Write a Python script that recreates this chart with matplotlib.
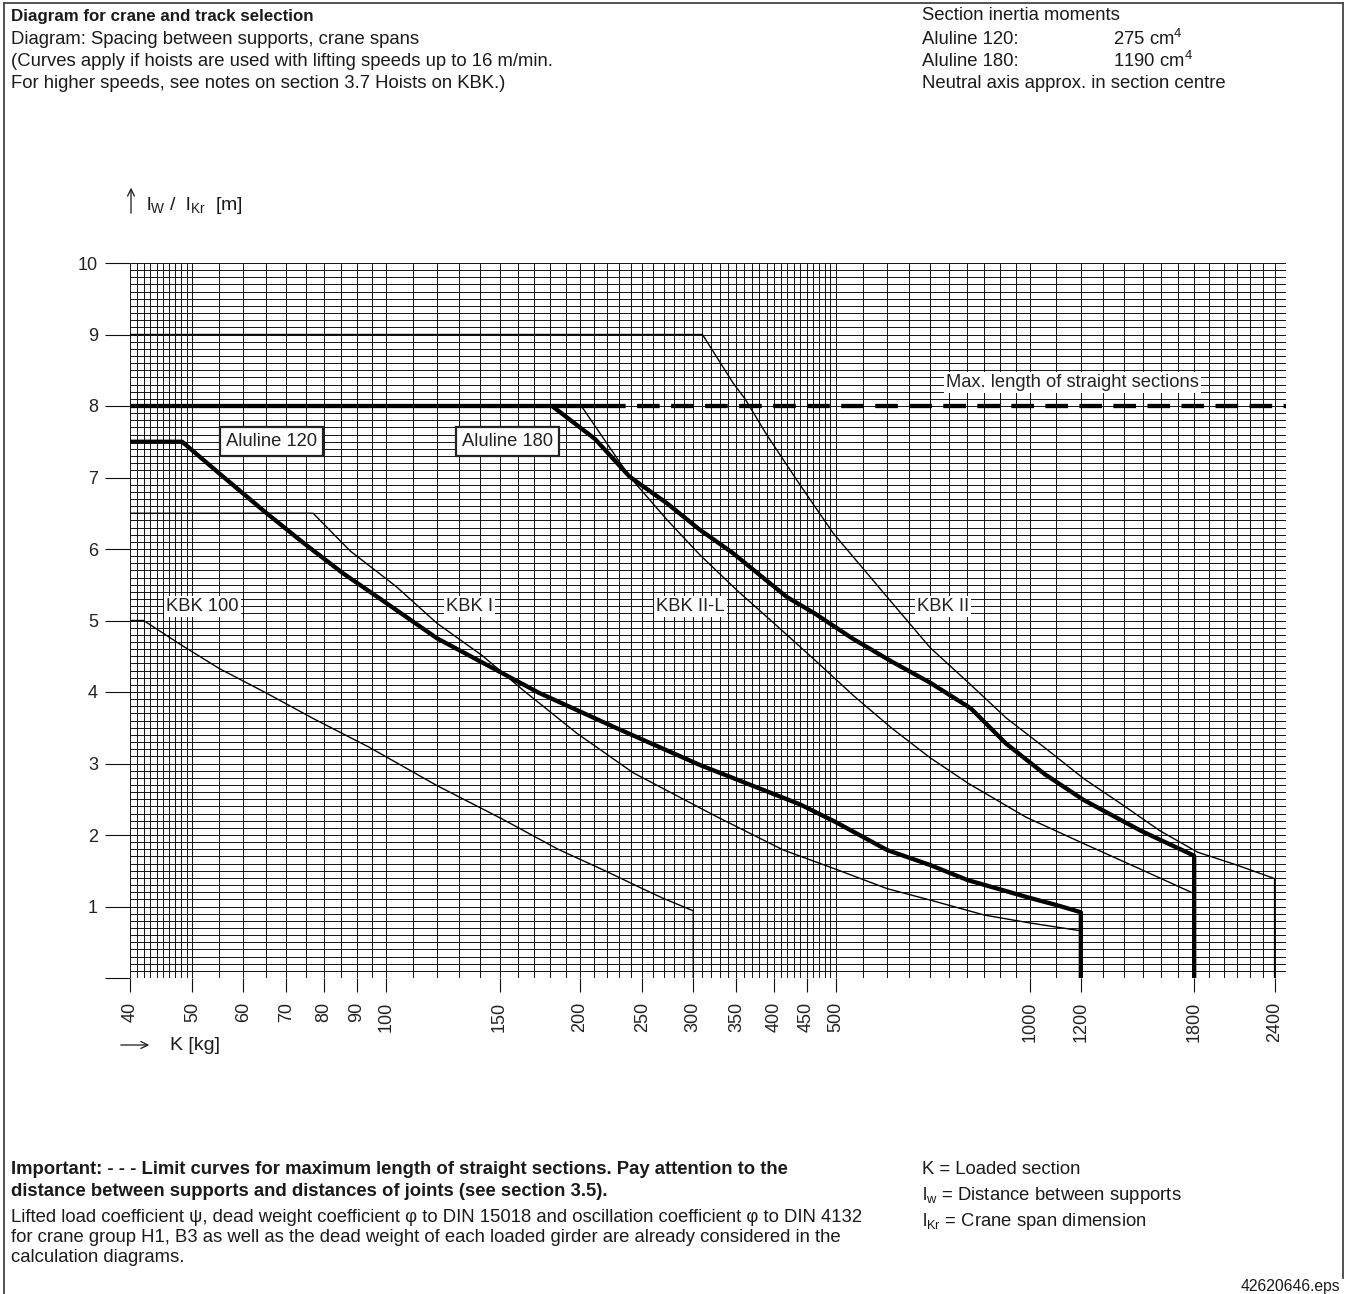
import matplotlib
matplotlib.use("Agg")
import matplotlib.pyplot as plt
import numpy as np

plt.rcParams['font.family'] = ['Liberation Sans', 'DejaVu Sans']
plt.rcParams['mathtext.fontset'] = 'custom'
plt.rcParams['mathtext.rm'] = 'Liberation Sans'
plt.rcParams['mathtext.it'] = 'Liberation Sans:italic'
plt.rcParams['mathtext.bf'] = 'Liberation Sans:bold'
plt.rcParams['lines.scale_dashes'] = False

# ---------------- data ----------------
kbk100_x = [40, 42, 48, 55, 65, 77, 94, 120, 151, 185, 220, 250, 270, 300, 300]
kbk100_y = [5.0, 5.0, 4.66, 4.33, 3.99, 3.63, 3.23, 2.69, 2.23, 1.80, 1.49, 1.25, 1.11, 0.94, 0.0]

kbk1_x = [40, 77, 88, 103.5, 120, 141, 163.5, 198, 242, 324, 414, 500, 600, 700, 850, 1000, 1200]
kbk1_y = [6.5, 6.5, 5.97, 5.48, 4.96, 4.51, 4.02, 3.42, 2.87, 2.27, 1.79, 1.52, 1.25, 1.09, 0.88, 0.77, 0.66]

kbk2l_x = [40, 201, 239, 273, 307, 351, 404, 463, 532, 609, 700, 803, 986, 1212, 1487, 1800]
kbk2l_y = [8.0, 8.0, 7.01, 6.41, 5.92, 5.42, 4.93, 4.45, 3.95, 3.50, 3.08, 2.72, 2.25, 1.88, 1.52, 1.18]

kbk2_x = [40, 310, 346, 361, 390, 440, 495, 600, 700, 803, 918, 1055, 1212, 1389, 1592, 1822, 2096, 2400, 2400]
kbk2_y = [9.0, 9.0, 8.32, 8.10, 7.60, 6.89, 6.22, 5.33, 4.62, 4.13, 3.64, 3.22, 2.79, 2.43, 2.06, 1.76, 1.58, 1.39, 0.0]

alu120_x = [40, 48.2, 55, 65, 75, 85.7, 98, 120, 151, 172.6, 226, 307, 439, 497, 600, 700, 800, 1000, 1100, 1200, 1200]
alu120_y = [7.5, 7.5, 7.06, 6.51, 6.06, 5.66, 5.30, 4.75, 4.27, 3.99, 3.51, 2.98, 2.43, 2.19, 1.79, 1.58, 1.37, 1.12, 1.02, 0.92, 0.0]

alu180_x = [40, 181, 211, 239, 273, 307, 346, 419, 463, 532, 609, 700, 810, 918, 1055, 1212, 1487, 1800, 1800]
alu180_y = [8.0, 8.0, 7.54, 7.01, 6.64, 6.27, 5.94, 5.33, 5.10, 4.74, 4.43, 4.13, 3.77, 3.28, 2.85, 2.49, 2.06, 1.71, 0.0]

max_straight_len = 8.0
max_solid_x = [181, 217]
max_dashed_x = [217, 2500]

x_ticks = [40, 50, 60, 70, 80, 90, 100, 150, 200, 250, 300, 350, 400, 450, 500, 1000, 1200, 1800, 2400]
y_ticks = [0, 1, 2, 3, 4, 5, 6, 7, 8, 9, 10]
y_ticklabels = ['', '1', '2', '3', '4', '5', '6', '7', '8', '9', '10']

# ---------------- figure ----------------
W, H = 1352, 1294
fig = plt.figure(figsize=(W / 100, H / 100), dpi=100)
fig.patch.set_facecolor('white')

def fx(x):
    return x / W

def fy(y):
    return 1 - y / H

ax = fig.add_axes([fx(130), fy(978), (1286 - 130) / W, (978 - 263) / H])
ax.set_xscale('log')
ax.set_xlim(40, 2500)
ax.set_ylim(0, 10)

# grid
grid_x = (list(range(40, 50, 1)) + list(range(50, 100, 5)) + list(range(100, 500, 10))
          + list(range(500, 1000, 50)) + list(range(1000, 2501, 100)))
grid_y = np.round(np.arange(0, 10.01, 0.1), 2)
gcol = '#111111'
ax.vlines(grid_x, 0, 10, colors=gcol, linewidth=0.7, zorder=1)
ax.hlines(grid_y, 40, 2500, colors=gcol, linewidth=0.7, zorder=1)
for s in ax.spines.values():
    s.set_visible(False)

# ticks
tick_fs = 13
ax.set_xticks(x_ticks)
ax.set_xticklabels([str(v) for v in x_ticks], rotation=90, fontsize=tick_fs, color='#222222')
ax.xaxis.set_minor_locator(matplotlib.ticker.NullLocator())
ax.tick_params(axis='x', length=10, width=0.8, pad=7, color=gcol)
ax.set_yticks(y_ticks)
ax.set_yticklabels(y_ticklabels, fontsize=tick_fs, color='#222222')
ax.tick_params(axis='y', length=18, width=0.8, pad=5, color=gcol)

# curves
thin = 1.0
thick = 3.1
ax.plot(kbk100_x, kbk100_y, color='black', lw=thin, zorder=3)
ax.plot(kbk1_x, kbk1_y, color='black', lw=thin, zorder=3)
ax.plot(kbk2l_x, kbk2l_y, color='black', lw=thin, zorder=3)
ax.plot(kbk2_x, kbk2_y, color='black', lw=thin, zorder=3)
ax.plot(alu120_x, alu120_y, color='black', lw=thick, zorder=4, solid_capstyle='butt')
ax.plot(alu180_x, alu180_y, color='black', lw=thick, zorder=4, solid_capstyle='butt')
ax.plot(max_solid_x, [max_straight_len] * 2, color='black', lw=thick, zorder=4, solid_capstyle='butt')
ax.plot(max_dashed_x, [max_straight_len] * 2, color='black', lw=thick, zorder=4,
        dashes=(16.3, 8.2), dash_capstyle='butt')

# labels in plot
lab_fs = 13.2
white_box = dict(facecolor='white', edgecolor='none', pad=1.5)
edge_box = dict(facecolor='white', edgecolor='#222222', linewidth=1.6, pad=4.5)
ax.text(51.8, 5.19, 'KBK 100', fontsize=lab_fs, ha='center', va='center', bbox=white_box, zorder=5, color='#222222')
ax.text(134.6, 5.19, 'KBK I', fontsize=lab_fs, ha='center', va='center', bbox=white_box, zorder=5, color='#222222')
ax.text(297, 5.19, 'KBK II-L', fontsize=lab_fs, ha='center', va='center', bbox=white_box, zorder=5, color='#222222')
ax.text(732, 5.19, 'KBK II', fontsize=lab_fs, ha='center', va='center', bbox=white_box, zorder=5, color='#222222')
ax.text(1165, 8.33, 'Max. length of straight sections', fontsize=lab_fs, ha='center', va='center',
        bbox=white_box, zorder=5, color='#222222')
ax.text(66.4, 7.5, 'Aluline 120', fontsize=lab_fs, ha='center', va='center', bbox=edge_box, zorder=5, color='#222222')
ax.text(154.5, 7.5, 'Aluline 180', fontsize=lab_fs, ha='center', va='center', bbox=edge_box, zorder=5, color='#222222')

# axis titles
tc = '#1a1a1a'
fig.add_artist(matplotlib.patches.FancyArrowPatch((fx(131), fy(216)), (fx(131), fy(185)),
               transform=fig.transFigure, arrowstyle='->,head_length=5,head_width=2.5',
               color=tc, linewidth=0.9, mutation_scale=1))
fig.text(fx(146), fy(205), r'l$_{\mathrm{W}}$ /  l$_{\mathrm{Kr}}$  [m]', fontsize=14,
         ha='left', va='center', color=tc)
fig.add_artist(matplotlib.patches.FancyArrowPatch((fx(118), fy(1045)), (fx(152), fy(1045)),
               transform=fig.transFigure, arrowstyle='->,head_length=5,head_width=2.5',
               color=tc, linewidth=0.9, mutation_scale=1))
fig.text(fx(170), fy(1045), 'K [kg]', fontsize=14, ha='left', va='center', color=tc)

# header text
tfs = 13.3
lx = 11
fig.text(fx(lx), fy(16), 'Diagram for crane and track selection', fontsize=12.2, fontweight='bold',
         ha='left', va='center', color=tc)
fig.text(fx(lx), fy(39), 'Diagram: Spacing between supports, crane spans', fontsize=tfs, ha='left', va='center', color=tc)
fig.text(fx(lx), fy(61), '(Curves apply if hoists are used with lifting speeds up to 16 m/min.', fontsize=tfs,
         ha='left', va='center', color=tc)
fig.text(fx(lx), fy(83), 'For higher speeds, see notes on section 3.7 Hoists on KBK.)', fontsize=tfs,
         ha='left', va='center', color=tc)

fig.text(fx(922), fy(16), 'Section inertia moments', fontsize=tfs, ha='left', va='center', color=tc)
fig.text(fx(922), fy(39), 'Aluline 120:', fontsize=tfs, ha='left', va='center', color=tc)
fig.text(fx(1113), fy(39), r'275 cm$^{4}$', fontsize=tfs, ha='left', va='center', color=tc)
fig.text(fx(922), fy(61), 'Aluline 180:', fontsize=tfs, ha='left', va='center', color=tc)
fig.text(fx(1113), fy(61), r'1190 cm$^{4}$', fontsize=tfs, ha='left', va='center', color=tc)
fig.text(fx(922), fy(83), 'Neutral axis approx. in section centre', fontsize=tfs, ha='left', va='center', color=tc)

# footer text
fig.text(fx(lx), fy(1169), 'Important: - - - Limit curves for maximum length of straight sections. Pay attention to the',
         fontsize=tfs, fontweight='bold', ha='left', va='center', color=tc)
fig.text(fx(lx), fy(1192), 'distance between supports and distances of joints (see section 3.5).',
         fontsize=tfs, fontweight='bold', ha='left', va='center', color=tc)
fig.text(fx(lx), fy(1218), 'Lifted load coefficient \u03c8, dead weight coefficient \u03c6 to DIN 15018 and oscillation coefficient \u03c6 to DIN 4132',
         fontsize=tfs, ha='left', va='center', color=tc)
fig.text(fx(lx), fy(1238), 'for crane group H1, B3 as well as the dead weight of each loaded girder are already considered in the',
         fontsize=tfs, ha='left', va='center', color=tc)
fig.text(fx(lx), fy(1258), 'calculation diagrams.', fontsize=tfs, ha='left', va='center', color=tc)

fig.text(fx(922), fy(1169), 'K = Loaded section', fontsize=tfs, ha='left', va='center', color=tc)
fig.text(fx(922), fy(1196), r'l$_{\mathrm{w}}$ = Distance between supports', fontsize=tfs, ha='left', va='center', color=tc)
fig.text(fx(922), fy(1222), r'l$_{\mathrm{Kr}}$ = Crane span dimension', fontsize=tfs, ha='left', va='center', color=tc)
fig.text(fx(1340), fy(1287), '42620646.eps', fontsize=11.3, ha='right', va='center', color=tc)

# outer frame
frame_kw = dict(color='#444444', linewidth=1.3, transform=fig.transFigure)
fig.add_artist(plt.Line2D([fx(4), fx(1343)], [fy(3), fy(3)], **frame_kw))
fig.add_artist(plt.Line2D([fx(4), fx(4)], [fy(3), fy(1294)], **frame_kw))
fig.add_artist(plt.Line2D([fx(1343), fx(1343)], [fy(3), fy(1278)], **frame_kw))

fig.savefig('out.png', dpi=100, facecolor='white')
